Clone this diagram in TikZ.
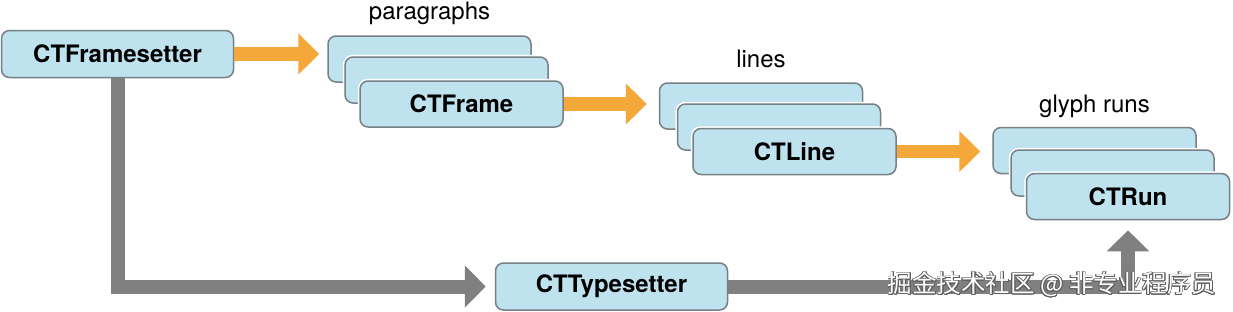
\documentclass[tikz,border=0pt]{standalone}
\usepackage{fontspec}
\setmainfont{TeX Gyre Heros}
\newfontfamily\cjkfont{Noto Sans CJK SC}
\usepackage{contour}
\contourlength{0.8pt}
\usetikzlibrary{arrows.meta,positioning}
\definecolor{boxblue}{RGB}{190,226,238}
\definecolor{boxedge}{RGB}{118,128,134}
\definecolor{flow}{RGB}{245,168,58}
\definecolor{pipe}{RGB}{128,128,128}

\begin{document}
\begin{tikzpicture}[
  x=1pt, y=-1pt,
  box/.style={rectangle, draw=boxedge, line width=1.5pt, fill=boxblue, rounded corners=8pt, minimum width=203pt, minimum height=46pt, font=\bfseries\fontsize{24}{28}\selectfont, preaction={draw=white, line width=4.5pt}},
  wide/.style={box, minimum width=232pt, minimum height=47pt},
  tag/.style={font=\fontsize{24}{28}\selectfont, inner sep=0pt, text depth=5pt},
  flowarr/.style={draw=flow, line width=13.5pt, -{Triangle[length=21pt, width=40pt]}},
  pipearr/.style={draw=pipe, line width=14pt, line join=miter, -{Triangle[length=21pt, width=41pt]}}
]
\useasboundingbox (0,0) rectangle (1233,311);

\node[wide] (setter) at (117.5,54) {CTFramesetter};

% paragraphs
\node[box] (para1) at (429.5,59) {};
\node[box] (para2) at ([shift={(17,21)}]para1) {};
\node[box] (frame) at ([shift={(15,24)}]para2) {CTFrame};
\node[tag, above=11pt of para1] (paratag) {paragraphs};

% lines
\node[box] (line1) at (761,106) {};
\node[box] (line2) at ([shift={(18,21)}]line1) {};
\node[box] (line) at ([shift={(15.5,24.5)}]line2) {CTLine};
\node[tag, above=10pt of line1] (linetag) {lines};

% glyph runs
\node[box] (run1) at (1094.5,150.5) {};
\node[box] (run2) at ([shift={(18,22.5)}]run1) {};
\node[box] (run) at ([shift={(15.5,23.5)}]run2) {CTRun};
\node[tag, above=9pt of run1] (runtag) {glyph runs};

\node[wide] (typesetter) at (611.5,286.5) {CTTypesetter};

\draw[flowarr, shorten >=8pt] (setter.east) -- (setter.east -| para1.west);
\draw[flowarr, shorten >=12pt] (frame.east) -- (frame.east -| line1.west);
\draw[flowarr, shorten >=12pt] (line.east) -- (line.east -| run1.west);

\draw[pipearr, shorten >=9pt] (setter.south) |- (typesetter.west);
\draw[pipearr, shorten >=10pt] (typesetter.east) -| (run.south);

\node[font=\cjkfont\fontsize{24.5}{28}\selectfont, text=white] (mark) at (1052,285) {\contour{pipe!75!black}{掘金技术社区 @ 非专业程序员}};
\end{tikzpicture}
\end{document}
